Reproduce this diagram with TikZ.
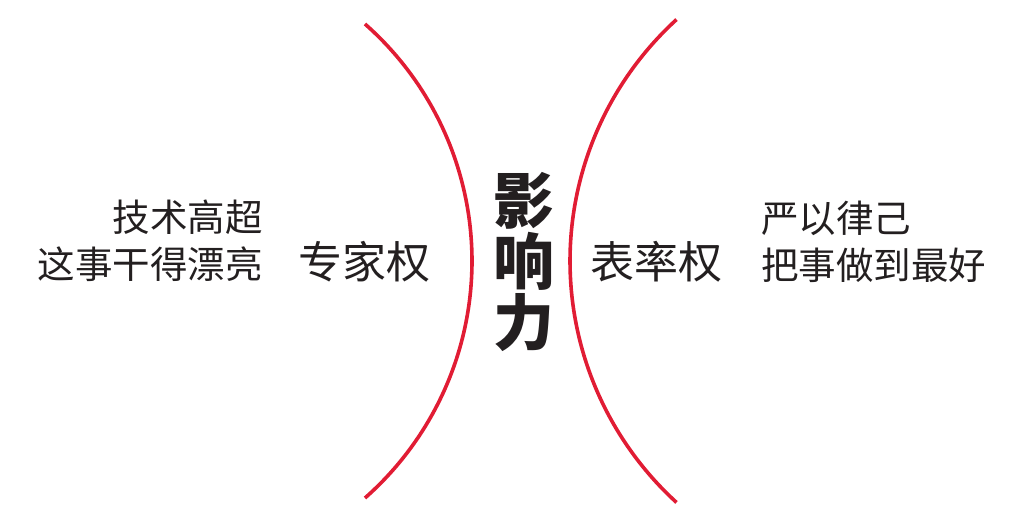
\documentclass[tikz,border=0pt]{standalone}
\usepackage{fontspec}
\setmainfont{Noto Sans CJK SC}
\usepackage{tikz}
\definecolor{arcred}{RGB}{225,28,52}
\definecolor{ink}{RGB}{35,31,32}

\begin{document}
\begin{tikzpicture}[x=1pt,y=1pt,
    arcline/.style={draw=arcred,line width=3.6pt},
    note/.style={inner sep=0pt,text=ink,font=\fontsize{37.5}{47}\selectfont},
    power/.style={inner sep=0pt,text=ink,font=\fontsize{44}{50}\selectfont}]
  \useasboundingbox (0,0) rectangle (1012,520);
  % the two arcs
  \draw[arcline] (156,259) ++(48.6:316) arc[start angle=48.6,end angle=-48.6,radius=316];
  \draw[arcline] (897,259) ++(132.4:327) arc[start angle=132.4,end angle=227.6,radius=327];
  % centre
  \node[inner sep=0pt,text=ink,align=center,font=\fontsize{61}{61}\bfseries\selectfont] (yxl) at (524,258) {影\\响\\力};
  % left side
  \node[power] (zjq) at (364,258) {专家权};
  \node[note,align=right,anchor=east] (left) at (263,279) {技术高超\\这事干得漂亮};
  % right side
  \node[power] (blq) at (656,258) {表率权};
  \node[note,align=left,anchor=west] (right) at (761,278) {严以律己\\把事做到最好};
\end{tikzpicture}
\end{document}
